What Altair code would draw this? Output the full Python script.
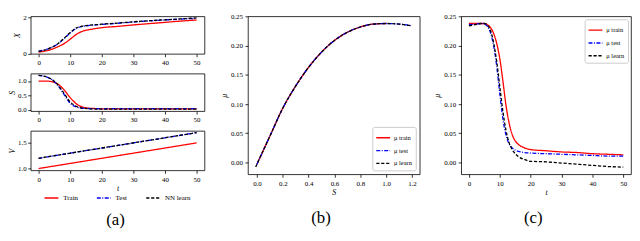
import altair as alt
import pandas as pd

FONT = "Liberation Serif"

# ---------------- Panel (a) data ----------------
t_a = [0, 2, 4, 6, 8, 10, 12, 14, 16, 18, 20, 25, 30, 35, 40, 45, 50]
X_train = [0.09, 0.15, 0.24, 0.38, 0.55, 0.80, 1.07, 1.24, 1.32, 1.38, 1.43, 1.50, 1.58, 1.65, 1.72, 1.79, 1.85]
X_test = [0.15, 0.22, 0.34, 0.53, 0.82, 1.14, 1.40, 1.50, 1.55, 1.58, 1.61, 1.67, 1.74, 1.80, 1.85, 1.90, 1.94]
X_learn = [0.13, 0.21, 0.34, 0.54, 0.84, 1.17, 1.42, 1.52, 1.56, 1.59, 1.62, 1.68, 1.75, 1.81, 1.86, 1.91, 1.96]

S_train = [1.00, 1.00, 0.98, 0.90, 0.70, 0.42, 0.20, 0.09, 0.05, 0.04, 0.03, 0.03, 0.03, 0.03, 0.03, 0.03, 0.03]
S_test = [1.20, 1.16, 1.06, 0.86, 0.54, 0.22, 0.09, 0.05, 0.04, 0.04, 0.04, 0.04, 0.04, 0.04, 0.04, 0.04, 0.04]
S_learn = [1.20, 1.16, 1.07, 0.88, 0.58, 0.27, 0.11, 0.05, 0.03, 0.02, 0.02, 0.02, 0.02, 0.02, 0.02, 0.02, 0.02]

t_v = [0, 50]
V_train = [1.0, 1.5]
V_test = [1.2, 1.7]
V_learn = [1.2, 1.7]

names_a = ["Train", "Test", "NN learn"]

# ---------------- Panel (b) data ----------------
S_b_train = [0.0, 0.1, 0.2, 0.3, 0.4, 0.5, 0.6, 0.7, 0.8, 0.9, 1.0]
mu_b_train = [-0.003, 0.045, 0.093, 0.131, 0.163, 0.189, 0.209, 0.223, 0.232, 0.237, 0.238]
S_b_test = [0.0, 0.1, 0.2, 0.3, 0.4, 0.5, 0.6, 0.7, 0.8, 0.9, 1.0, 1.1, 1.2]
mu_b_test = [-0.003, 0.045, 0.093, 0.131, 0.163, 0.189, 0.209, 0.223, 0.232, 0.237, 0.238, 0.237, 0.234]
S_b_learn = [-0.01, 0.0, 0.1, 0.2, 0.3, 0.4, 0.5, 0.6, 0.7, 0.8, 0.9, 1.0, 1.1, 1.2]
mu_b_learn = [-0.008, -0.003, 0.045, 0.093, 0.131, 0.163, 0.189, 0.209, 0.223, 0.232, 0.237, 0.238, 0.237, 0.234]

# ---------------- Panel (c) data ----------------
t_c = [0, 2, 4, 5, 6, 7, 8, 9, 10, 11, 12, 13, 14, 15, 16, 18, 20, 25, 30, 35, 40, 45, 50]
mu_c_train = [0.238, 0.238, 0.238, 0.238, 0.236, 0.231, 0.221, 0.204, 0.178, 0.140, 0.098, 0.068, 0.048,
              0.037, 0.031, 0.025, 0.022, 0.020, 0.018, 0.017, 0.015, 0.014, 0.013]
mu_c_test = [0.236, 0.237, 0.238, 0.237, 0.233, 0.222, 0.200, 0.165, 0.118, 0.075, 0.047, 0.032, 0.025,
             0.021, 0.019, 0.017, 0.016, 0.015, 0.014, 0.013, 0.012, 0.011, 0.011]
mu_c_learn = [0.234, 0.236, 0.238, 0.238, 0.235, 0.226, 0.205, 0.173, 0.130, 0.088, 0.055, 0.034, 0.022,
              0.015, 0.010, 0.005, 0.002, 0.001, -0.001, -0.003, -0.005, -0.007, -0.008]

names_mu = ["μ train", "μ test", "μ learn"]

COLORS = ["#ff0000", "#0000ff", "#000000"]
DASHES = [[1, 0], [4, 1.5, 1, 1.5], [3.2, 1.8]]


def frame(names, xs, ys):
    rows = []
    for n, x, y in zip(names, xs, ys):
        for xi, yi in zip(x, y):
            rows.append({"x": xi, "y": yi, "series": n})
    return pd.DataFrame(rows)


def panel(df, names, xdom, ydom, xvals, yvals, xfmt, yfmt, xtitle, ytitle, w, h, legend, pad=2):
    color = alt.Color("series:N", sort=names,
                      scale=alt.Scale(domain=names, range=COLORS), legend=legend)
    dash = alt.StrokeDash("series:N", sort=names,
                          scale=alt.Scale(domain=names, range=DASHES), legend=legend)
    return alt.Chart(df).mark_line(strokeWidth=1.3, clip=True, interpolate="monotone").encode(
        x=alt.X("x:Q", scale=alt.Scale(domain=xdom, nice=False, zero=False),
                axis=alt.Axis(values=xvals, format=xfmt, title=xtitle)),
        y=alt.Y("y:Q", scale=alt.Scale(domain=ydom, nice=False, zero=False),
                axis=alt.Axis(values=yvals, format=yfmt, title=ytitle,
                              labelPadding=pad - 0.5, titlePadding=pad - 1)),
        color=color,
        strokeDash=dash,
    ).properties(width=w, height=h)


xt = [0, 10, 20, 30, 40, 50]
WA = 176

a1 = panel(frame(names_a, [t_a, t_a, t_a], [X_train, X_test, X_learn]), names_a,
           [-2.5, 52.5], [0.0, 2.05], xt, [0, 1, 2], "d", "d", None, "X", WA, 38, None)
a2 = panel(frame(names_a, [t_a, t_a, t_a], [S_train, S_test, S_learn]), names_a,
           [-2.5, 52.5], [-0.05, 1.26], xt, [0.0, 0.5, 1.0], "d", ".1f", None, "S", WA, 38, None)
legend_a = alt.Legend(title=None, orient="none", legendX=13, legendY=60, direction="horizontal",
                      gridAlign="none", columnPadding=16, labelOffset=4, symbolSize=196,
                      symbolStrokeWidth=1.4, labelFontSize=7)
a3 = panel(frame(names_a, [t_v, t_v, t_v], [V_train, V_test, V_learn]), names_a,
           [-2.5, 52.5], [0.965, 1.735], xt, [1.0, 1.5], "d", ".1f", "t", "V", WA, 40, legend_a)

colA = alt.vconcat(a1, a2, a3, spacing=20, bounds="flush",
                   title=alt.TitleParams("(a)", orient="bottom", anchor="middle",
                                         dx=9, offset=11)
                   ).resolve_scale(color="independent", strokeDash="independent"
                   ).resolve_legend(color="independent", strokeDash="independent")

legend_b = alt.Legend(title=None, orient="bottom-right", offset=4, padding=3, strokeColor="#cccccc",
                      fillColor="white", cornerRadius=2, rowPadding=1, labelFontSize=6.5,
                      symbolSize=196, symbolStrokeWidth=1.4, labelOffset=3)
pb = panel(frame(names_mu, [S_b_train, S_b_test, S_b_learn], [mu_b_train, mu_b_test, mu_b_learn]),
           names_mu, [-0.07, 1.26], [-0.0203, 0.2503], [0.0, 0.2, 0.4, 0.6, 0.8, 1.0, 1.2],
           [0.0, 0.05, 0.1, 0.15, 0.2, 0.25], ".1f", ".2f", "S", "μ", 174, 160, legend_b, pad=3
           ).properties(title=alt.TitleParams("(b)", orient="bottom", anchor="middle", dx=-13, offset=14))

legend_c = alt.Legend(title=None, orient="top-right", offset=3, padding=3, strokeColor="#cccccc",
                      fillColor="white", cornerRadius=2, rowPadding=1, labelFontSize=6.5,
                      symbolSize=196, symbolStrokeWidth=1.4, labelOffset=3)
pc = panel(frame(names_mu, [t_c, t_c, t_c], [mu_c_train, mu_c_test, mu_c_learn]),
           names_mu, [-2.5, 52.5], [-0.0203, 0.2503], xt,
           [0.0, 0.05, 0.1, 0.15, 0.2, 0.25], "d", ".2f", "t", "μ", 172, 160, legend_c, pad=3
           ).properties(title=alt.TitleParams("(c)", orient="bottom", anchor="middle", dx=-13, offset=14))

right = alt.hconcat(pb, pc, spacing=12).resolve_scale(
    color="independent", strokeDash="independent")

chart = alt.hconcat(colA, right, spacing=14).resolve_scale(
    color="independent", strokeDash="independent"
).properties(
    padding={"left": 0, "top": 2, "right": 0, "bottom": 0}
).configure_view(
    stroke="black", strokeWidth=0.8
).configure_axis(
    grid=False, domain=False, tickColor="black", tickSize=3, tickWidth=0.8,
    labelFont=FONT, labelFontSize=7, labelColor="black", labelPadding=2,
    titleFont=FONT, titleFontSize=8, titleFontWeight="normal", titleFontStyle="italic",
    titleColor="black", titlePadding=2
).configure_legend(
    labelFont=FONT, labelColor="black", symbolType="stroke"
).configure_title(
    font=FONT, fontSize=17, fontWeight="normal", color="black"
)

chart.save("out.html", embed_options={"renderer": "svg", "actions": False})
